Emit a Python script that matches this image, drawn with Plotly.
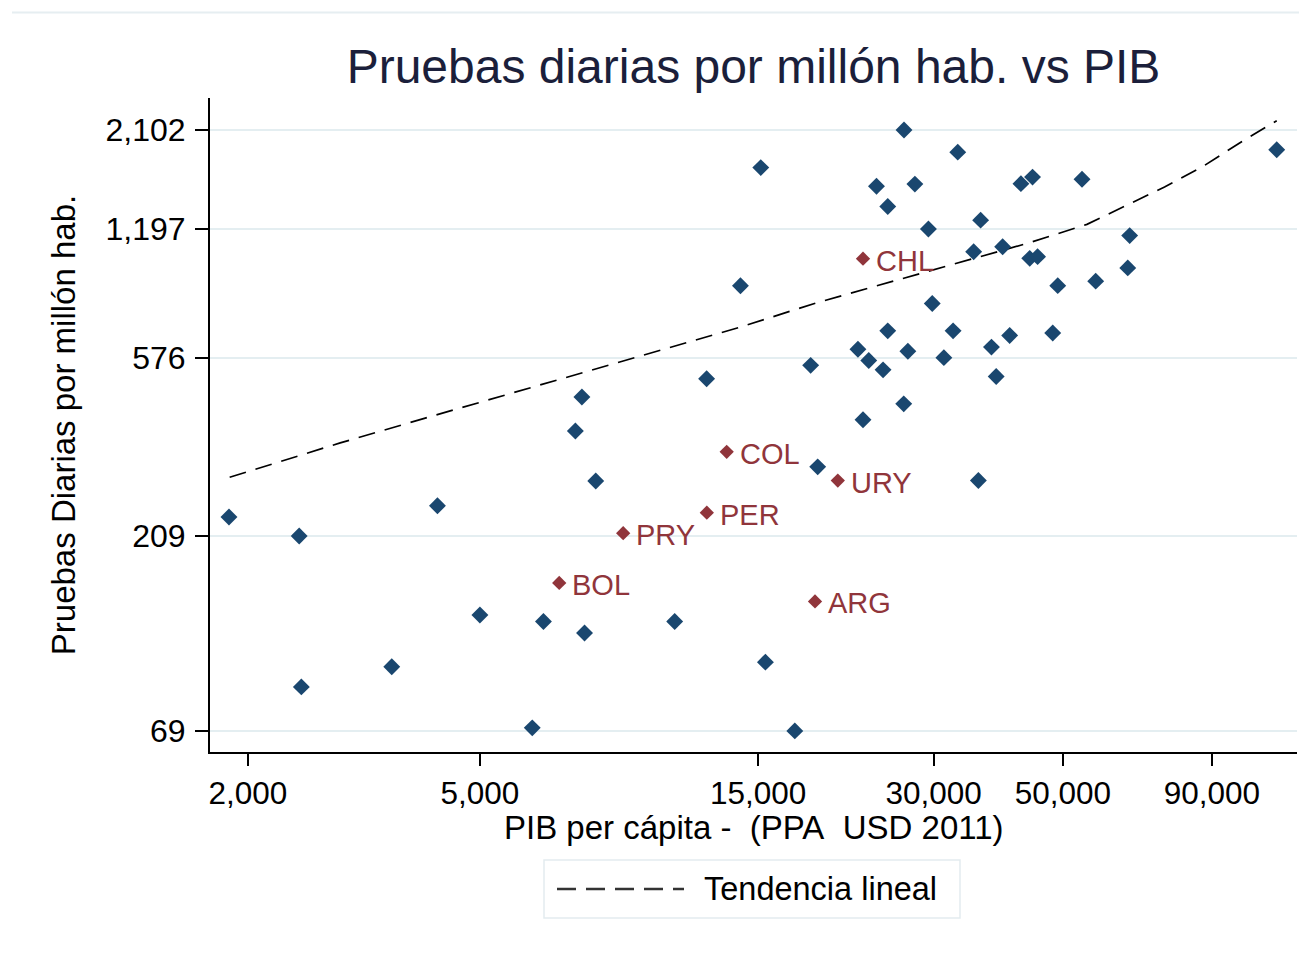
import math
import plotly.graph_objects as go

# --- data ---
gdp_other = [1856, 2449, 2470, 3530, 4228, 5000, 6148, 6426, 7289, 7480, 7558, 7900,
             10790, 12240, 13990, 15160, 15440, 17340, 18460, 18980, 22250, 22700,
             23220, 23940, 24570, 25030, 25030, 26690, 26660, 27100, 27860, 29390,
             29840, 31240, 32400, 33000, 35140, 35800, 36120, 37700, 38410, 39400,
             40510, 42350, 43850, 45230, 44340, 48020, 48980, 53910, 56900, 64580,
             65070, 116300]
tests_other = [232.8, 209, 88.6, 99.4, 248.1, 133.4, 70.2, 128.5, 379.6, 460.7, 120.4, 285.7,
               128.5, 511, 867, 1697, 102, 69, 551.4, 309.6, 604.4, 404.8,
               567, 1527, 537.5, 1360, 670.8, 2102, 443, 597.5, 1545, 1197,
               783.4, 576, 670.8, 1853, 1052, 286.4, 1259, 611.7, 517.6, 1082,
               653.4, 1549, 1013, 1023, 1608, 662.8, 867.5, 1589, 889.9, 959.6,
               1153, 1878]

countries = ["BOL", "PRY", "PER", "COL", "ARG", "URY", "CHL"]
gdp_latam = [6839, 8804, 12250, 13250, 18780, 20550, 22700]
tests_latam = [160, 212.4, 238.6, 337.3, 144.1, 286.4, 1011]

trend_gdp = [1861, 2880, 4015, 6255, 9745, 13975, 18850, 23700, 29800, 35840,
             43700, 54970, 64100, 74680, 87000, 101400, 116300]
trend_tests = [291.8, 354.8, 407.8, 490, 589, 685, 786, 863, 948, 1023,
               1106, 1229, 1367, 1520, 1710, 1969, 2216]

x_ticks = [2000, 5000, 15000, 30000, 50000, 90000]
x_tick_text = ["2,000", "5,000", "15,000", "30,000", "50,000", "90,000"]
y_ticks = [69, 209, 576, 1197, 2102]
y_tick_text = ["69", "209", "576", "1,197", "2,102"]

title_text = "Pruebas diarias por millón hab. vs PIB"
x_title = "PIB per cápita -\u00a0 (PPA\u00a0 USD 2011)"
y_title = "Pruebas Diarias por millón hab."
legend_text = "Tendencia lineal"

BLUE = "#1a476f"
RED = "#90353b"
FONT = "Liberation Sans, Arial, sans-serif"

fig = go.Figure()

fig.add_trace(go.Scatter(
    x=trend_gdp, y=trend_tests, mode="lines",
    line=dict(color="black", width=1.7, dash="17px,10px"),
    showlegend=False, name=legend_text))

fig.add_trace(go.Scatter(
    x=gdp_other, y=tests_other, mode="markers",
    marker=dict(symbol="diamond", size=13, color=BLUE),
    showlegend=False))

fig.add_trace(go.Scatter(
    x=gdp_latam, y=tests_latam, mode="markers",
    marker=dict(symbol="diamond", size=11, color=RED),
    showlegend=False))

for c, gx, ty in zip(countries, gdp_latam, tests_latam):
    fig.add_annotation(x=math.log10(gx), y=math.log10(ty), xref="x", yref="y",
                       text=c, showarrow=False, xanchor="left", yanchor="middle",
                       xshift=11, yshift=-2,
                       font=dict(family=FONT, size=29, color=RED))

# The page body adds an 8px offset; target pixel positions below are page pixels.
OFF = 8
W, H = 1307 - OFF, 959 - OFF
ML, MR, MT, MB = 210 - OFF, 10, 98 - OFF, 207
PW, PH = W - ML - MR, H - MT - MB


def px_x(X):
    return (X - OFF - ML) / PW


def px_y(Y):
    return (H - MB - (Y - OFF)) / PH


# outer faint frame line at top
fig.add_shape(type="line", xref="paper", yref="paper",
              x0=px_x(12), x1=px_x(1310), y0=px_y(12.5), y1=px_y(12.5),
              line=dict(color="#e6eef1", width=2))

# x axis title
fig.add_annotation(x=0.5, y=px_y(827), xref="paper", yref="paper",
                   text=x_title, showarrow=False, xanchor="center", yanchor="middle",
                   font=dict(family=FONT, size=33, color="black"))

# legend box
fig.add_shape(type="rect", xref="paper", yref="paper",
              x0=px_x(544), x1=px_x(960), y0=px_y(860), y1=px_y(918),
              line=dict(color="#e3ecef", width=1.5), fillcolor="white")
fig.add_shape(type="line", xref="paper", yref="paper",
              x0=px_x(557), x1=px_x(684), y0=px_y(889), y1=px_y(889),
              line=dict(color="#333333", width=2.4, dash="19px,10px"))
fig.add_annotation(x=px_x(702), y=px_y(889), xref="paper", yref="paper",
                   text=legend_text, showarrow=False, xanchor="left", yanchor="middle",
                   font=dict(family=FONT, size=32.5, color="black"))

fig.update_layout(
    width=W, height=H,
    margin=dict(l=ML, r=MR, t=MT, b=MB),
    paper_bgcolor="white", plot_bgcolor="white",
    showlegend=False,
    font=dict(family=FONT, color="black"),
    title=dict(text=title_text, x=0.5, xref="paper", xanchor="center",
               y=1 - (66 - OFF) / H, yanchor="middle", yref="container",
               font=dict(family=FONT, size=48, color="#1b1f3b")),
)

fig.update_xaxes(
    type="log",
    range=[math.log10(1722), math.log10(126000)],
    tickmode="array", tickvals=x_ticks, ticktext=x_tick_text,
    ticks="outside", ticklen=12, tickwidth=2, tickcolor="black",
    showline=True, linecolor="black", linewidth=2,
    showgrid=False, zeroline=False,
    tickfont=dict(family=FONT, size=31.5, color="black"),
)

fig.update_yaxes(
    type="log",
    range=[math.log10(61.2), math.log10(2521)],
    tickmode="array", tickvals=y_ticks, ticktext=y_tick_text,
    ticks="outside", ticklen=13, tickwidth=2, tickcolor="black",
    showline=True, linecolor="black", linewidth=2,
    showgrid=True, gridcolor="#e4eef1", gridwidth=1.5, zeroline=False,
    tickfont=dict(family=FONT, size=32, color="black"),
    ticklabelstandoff=3,
    title=dict(text=y_title, font=dict(family=FONT, size=33, color="black"), standoff=20),
)

fig.write_html("out.html")
